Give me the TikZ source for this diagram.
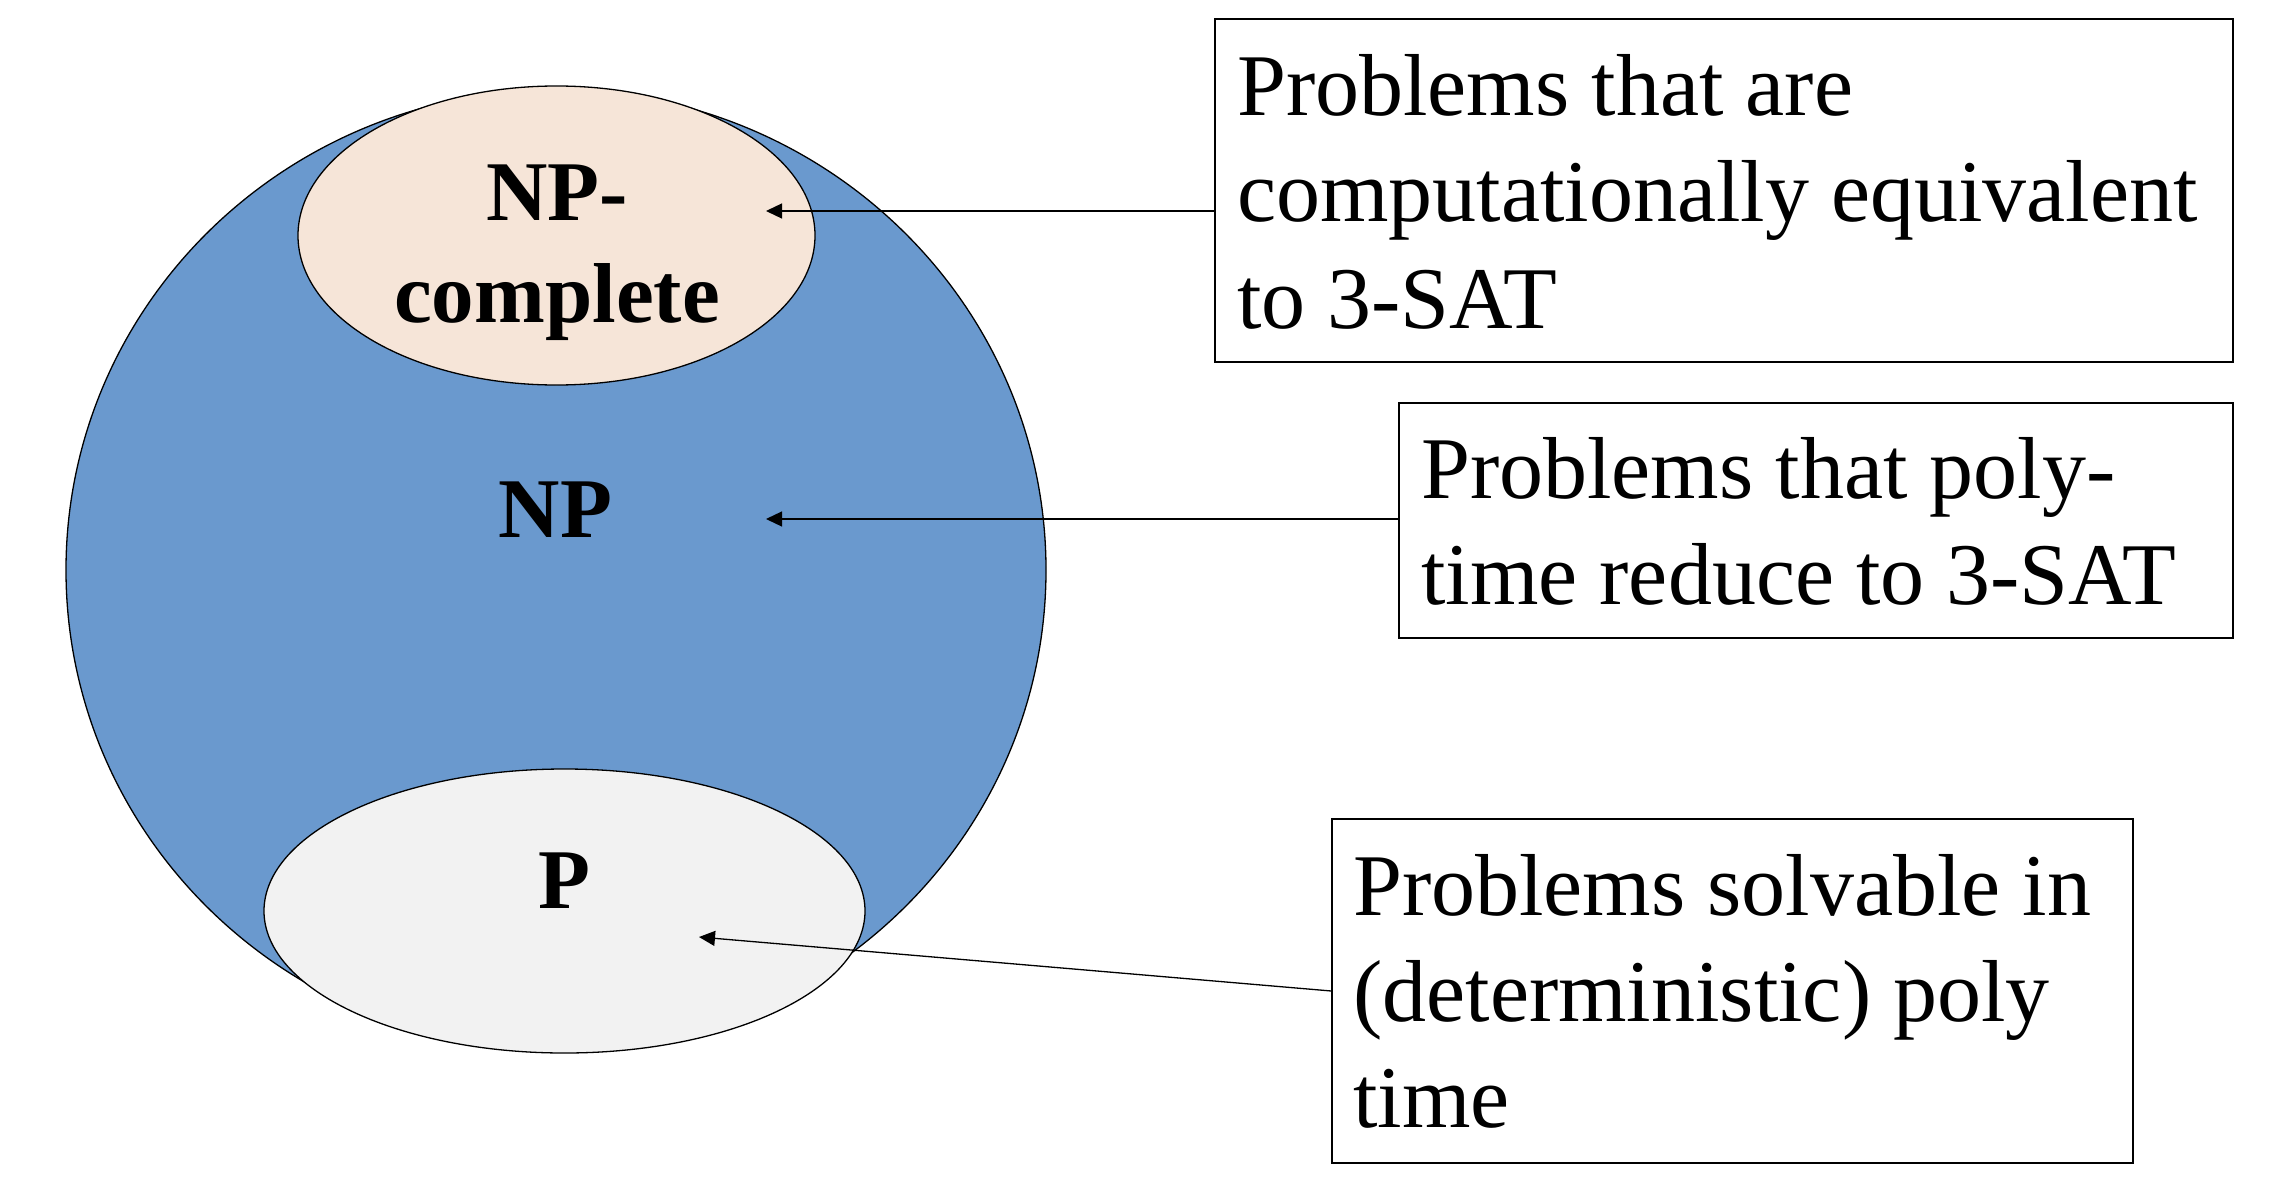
\documentclass[tikz,border=0pt]{standalone}
\usepackage{fontspec}
\setmainfont{Liberation Serif}
\usetikzlibrary{shapes.geometric,arrows.meta}
\definecolor{npblue}{HTML}{6A99CE}
\definecolor{npcfill}{HTML}{F6E5D8}
\definecolor{pfill}{HTML}{F2F2F2}
\begin{document}
\begin{tikzpicture}[x=1pt,y=-1pt,
  region/.style={ellipse, draw=black, line width=1.3pt, inner sep=0pt},
  box/.style={draw=black, line width=1.3pt, fill=white, inner sep=0pt},
  boxtext/.style={anchor=base west, inner sep=0pt, font=\fontsize{88}{106}\selectfont},
  setlabel/.style={anchor=base, inner sep=0pt, font=\fontsize{85}{102}\selectfont\bfseries},
  pointer/.style={line width=1.3pt, -{Triangle[length=16pt,width=15pt]}}]
\useasboundingbox (0,0) rectangle (2274,1180);
% regions
\node[region, fill=npblue, minimum width=980pt, minimum height=960pt] (np) at (556,570) {};
\node[region, fill=npcfill, minimum width=517pt, minimum height=299pt] (npc) at (556.5,235.5) {};
\node[region, fill=pfill, minimum width=601pt, minimum height=284pt] (p) at (564.5,911) {};
% region labels
\node[setlabel] (npctext) at (557,220) {\begin{tabular}[t]{@{}c@{}}NP-\\complete\end{tabular}};
\node[setlabel] (nptext) at (555.5,537) {NP};
\node[setlabel] (ptext) at (564,908) {P};
% description boxes
\node[box, minimum width=1018pt, minimum height=343pt] (b1) at (1724,190.5) {};
\node[boxtext] (t1) at (1237,116) {\begin{tabular}[t]{@{}l@{}}Problems that are\\computationally equivalent\\to 3-SAT\end{tabular}};
\node[box, minimum width=834pt, minimum height=235pt] (b2) at (1816,520.5) {};
\node[boxtext] (t2) at (1421,498) {\begin{tabular}[t]{@{}l@{}}Problems that poly-\\time reduce to 3-SAT\end{tabular}};
\node[box, minimum width=801pt, minimum height=344pt] (b3) at (1732.5,991) {};
\node[boxtext] (t3) at (1353,915) {\begin{tabular}[t]{@{}l@{}}Problems solvable in\\(deterministic) poly\\time\end{tabular}};
% pointers
\coordinate (a1) at (766,211);
\coordinate (a2) at (766,519);
\coordinate (a3) at (699,937);
\draw[pointer] (b1.west |- a1) -- (a1);
\draw[pointer] (b2.west |- a2) -- (a2);
\draw[pointer] (b3.west) -- (a3);
\end{tikzpicture}
\end{document}
